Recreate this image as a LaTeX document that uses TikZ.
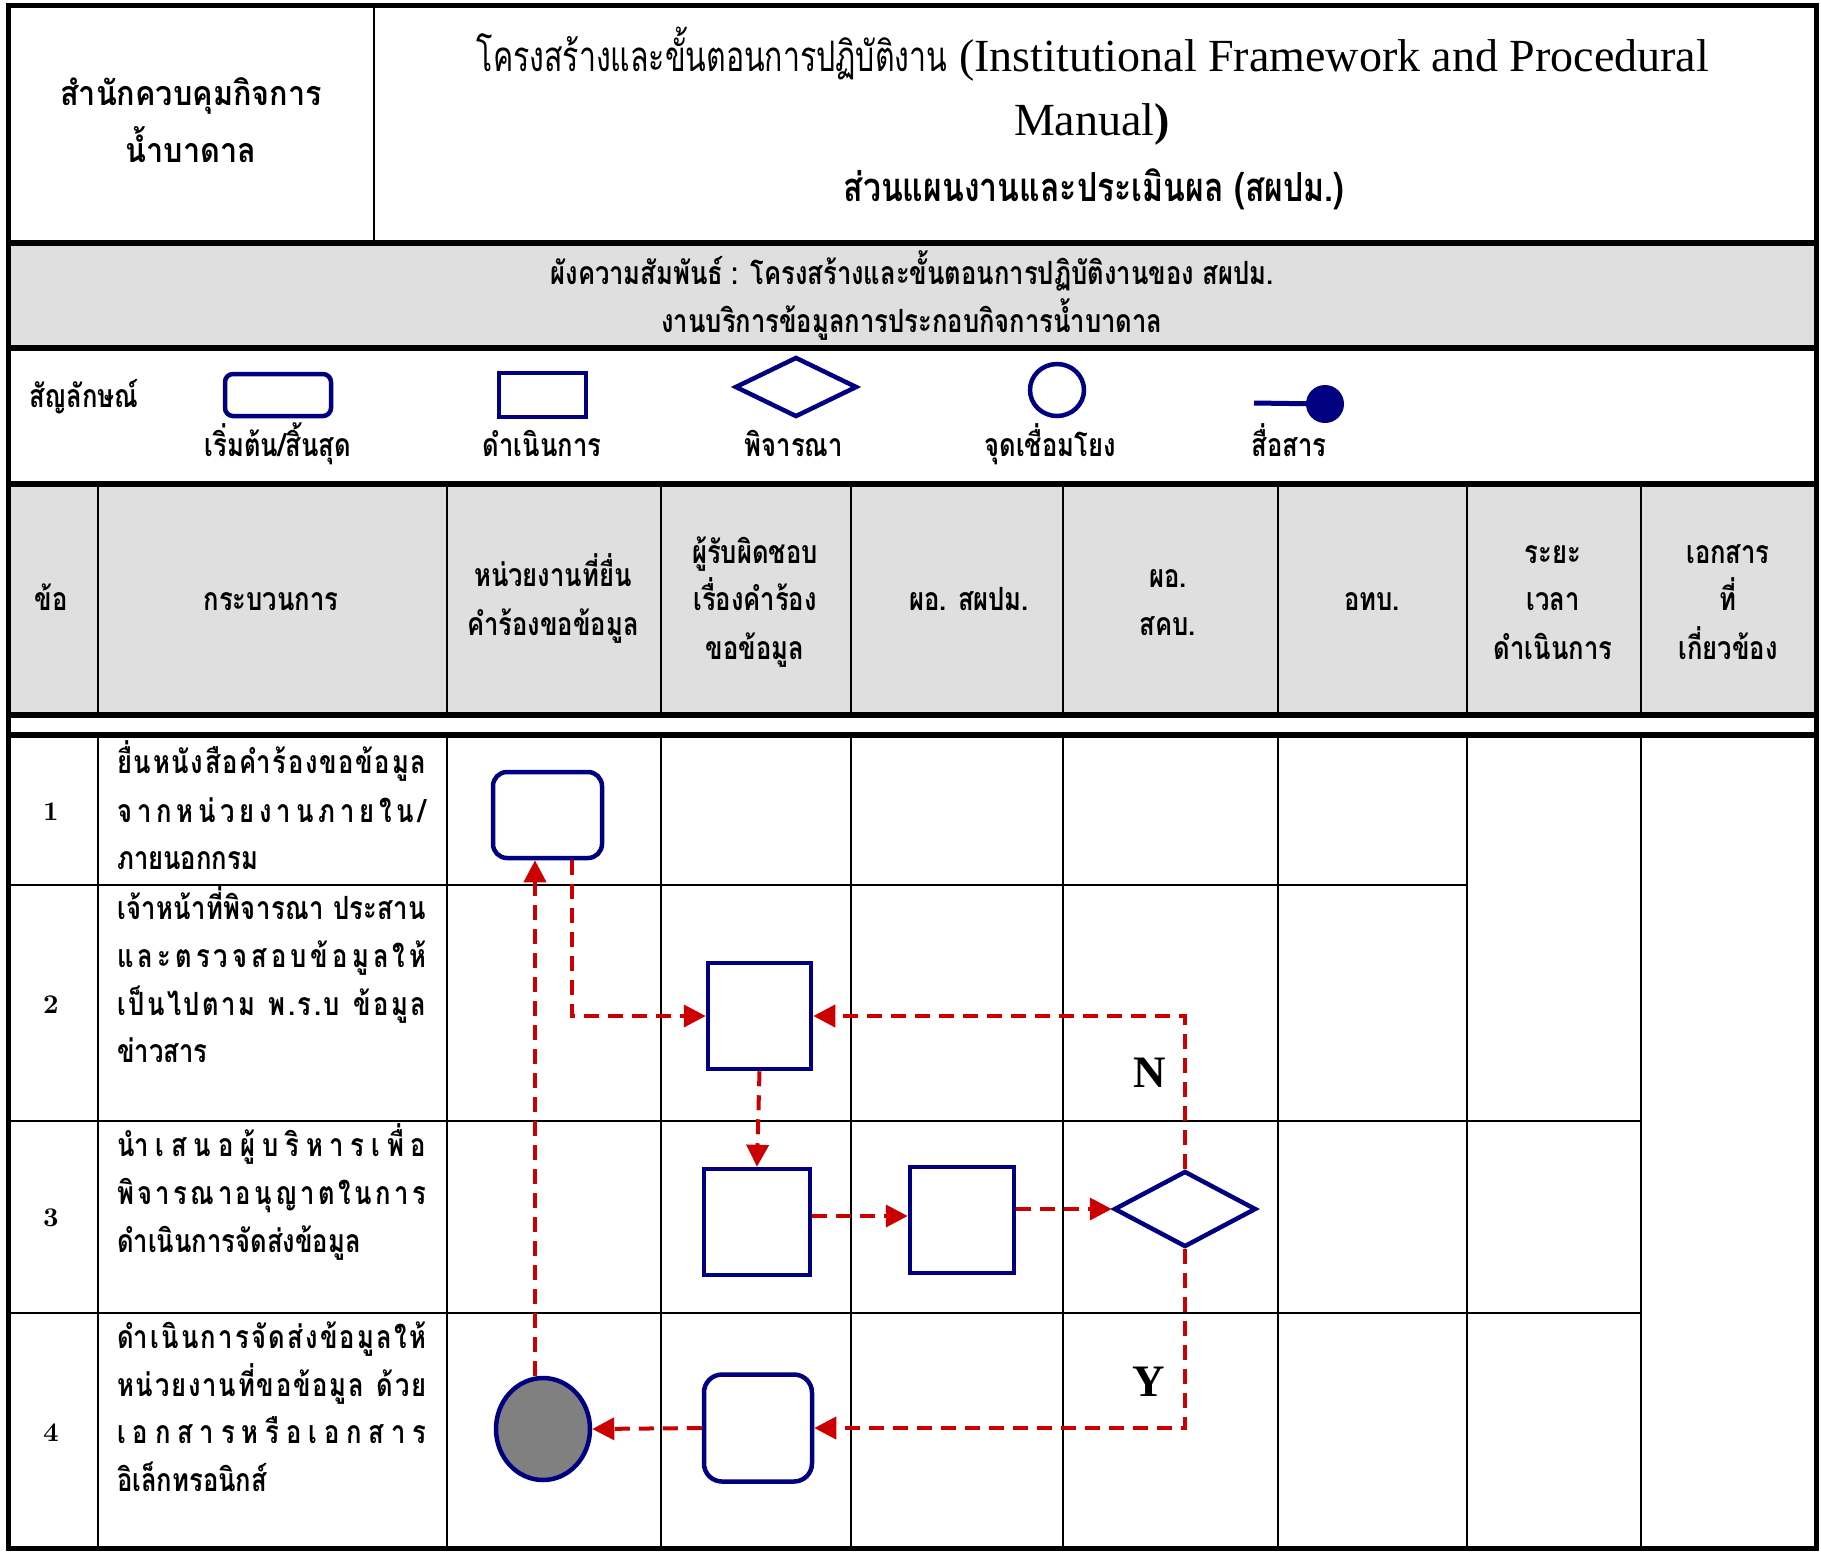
\documentclass[tikz,border=0pt]{standalone}
\usepackage{fontspec}
\newfontfamily\thaifont[Script=Thai,FakeStretch=0.8]{Loma}
\newfontfamily\thaiwide[Script=Thai,FakeStretch=0.9]{Loma}
\newfontfamily\thaititle[Script=Thai,FakeStretch=0.72]{Loma}
\newfontfamily\tnr{Liberation Serif}
\newfontfamily\lmbold{lmroman10-bold}[Extension=.otf]
\usetikzlibrary{arrows.meta,shapes.geometric}
\definecolor{navyb}{HTML}{000080}
\definecolor{flowred}{HTML}{CC0000}
\definecolor{hdrgray}{HTML}{DFDFDF}
\ExplSyntaxOn
\bool_new:N \l_jl_first_bool
\NewDocumentCommand \jtext { m }
 {
  \bool_set_true:N \l_jl_first_bool
  \tl_map_inline:nn { #1 }
   {
    \str_if_in:nnTF { ัิีึืฺุู็่้๊๋์ํำ } { ##1 }
     { ##1 }
     {
      \bool_if:NTF \l_jl_first_bool
       { \bool_set_false:N \l_jl_first_bool }
       { \hfil }
      ##1
     }
   }
 }
\ExplSyntaxOff
\newcommand\jline[1]{\makebox[309pt][s]{\jtext{#1}}}
\begin{document}
\begin{tikzpicture}[x=1pt,y=-1pt,
  gridthin/.style={line width=1.5pt,black},
  gridthick/.style={line width=6pt,black},
  symb/.style={draw=navyb,line width=4.5pt,fill=white,inner sep=0pt},
  flow/.style={draw=flowred,line width=4pt,dash pattern=on 15pt off 9pt,
    -{Triangle[length=22pt,width=22pt,fill=flowred]}},
  thtxt/.style={font=\thaifont\bfseries\fontsize{#1pt}{#1pt}\selectfont,inner sep=0pt,anchor=base},
  thleft/.style={thtxt=#1,anchor=base west},
  numtxt/.style={font=\lmbold\fontsize{27pt}{27pt}\selectfont,inner sep=0pt,anchor=base},
  yn/.style={font=\tnr\bfseries\fontsize{45pt}{45pt}\selectfont,inner sep=0pt}
]
\useasboundingbox (0,0) rectangle (1821,1551);
% backgrounds
\fill[hdrgray] (8,243) rectangle (1816,348);
\fill[hdrgray] (8,484) rectangle (1816,715);
% thin grid lines
\draw[gridthin] (374,5) -- (374,243);
\foreach \x in {98,447,661,851,1063,1278,1467,1641}{
  \draw[gridthin] (\x,484) -- (\x,715);
  \draw[gridthin] (\x,735) -- (\x,1548);
}
\draw[gridthin] (8,885) -- (1467,885);
\draw[gridthin] (8,1121) -- (1641,1121);
\draw[gridthin] (8,1313) -- (1641,1313);
% thick lines
\foreach \y in {243,348,484,715,735}{
  \draw[gridthick] (8,\y) -- (1816,\y);
}
\draw[line width=5pt] (8,5) rectangle (1816,1548);

% header texts
\node[inner sep=0pt,anchor=base,font=\thaiwide\bfseries\fontsize{34pt}{34pt}\selectfont] (org1) at (191,105) {สำนักควบคุมกิจการ};
\node[inner sep=0pt,anchor=base,font=\thaiwide\bfseries\fontsize{34pt}{34pt}\selectfont] (org2) at (191,162) {น้ำบาดาล};
\node[inner sep=0pt,anchor=base] (title1) at (1093,71)
  {{\thaititle\fontsize{42pt}{42pt}\selectfont โครงสร้างและขั้นตอนการปฏิบัติงาน}\hspace{12pt}{\tnr\fontsize{46pt}{46pt}\selectfont (Institutional Framework and Procedural}};
\node[inner sep=0pt,anchor=base] (title2) at (1092,135)
  {\tnr\fontsize{46pt}{46pt}\selectfont Manual\textbf{)}};
\node[thtxt=40] (title3) at (1094,201) {ส่วนแผนงานและประเมินผล (สผปม.)};
\node[thtxt=32] (band1) at (912,284) {ผังความสัมพันธ์ : โครงสร้างและขั้นตอนการปฏิบัติงานของ สผปม.};
\node[thtxt=32] (band2) at (912,332) {งานบริการข้อมูลการประกอบกิจการน้ำบาดาล};

% legend
\node[thtxt=32,anchor=base west] (legtitle) at (29,407) {สัญลักษณ์};
\node[symb,rounded corners=8pt,minimum width=106pt,minimum height=42pt] (lgstart) at (278,395) {};
\node[symb,minimum width=87pt,minimum height=44pt] (lgproc) at (542.5,395) {};
\node[symb,diamond,minimum width=122pt,minimum height=60pt] (lgdec) at (796,387) {};
\node[symb,ellipse,minimum width=54pt,minimum height=52pt] (lgcon) at (1057,390) {};
\node[circle,fill=navyb,inner sep=0pt,minimum size=38pt] (lgdot) at (1325,404) {};
\coordinate (lgline) at (1254,403);
\draw[navyb,line width=5pt] (lgline) -- (lgdot.center);
\node[thtxt=32] (lgl1) at (278,456) {เริ่มต้น/สิ้นสุด};
\node[thtxt=32] (lgl2) at (542,456) {ดำเนินการ};
\node[thtxt=32] (lgl3) at (794,456) {พิจารณา};
\node[thtxt=32] (lgl4) at (1050,456) {จุดเชื่อมโยง};
\node[thtxt=32] (lgl5) at (1289,456) {สื่อสาร};

% column headers
\node[thtxt=32] (h1) at (51,610) {ข้อ};
\node[thtxt=32] (h2) at (271,610) {กระบวนการ};
\node[thtxt=32] (h3a) at (553,586) {หน่วยงานที่ยื่น};
\node[thtxt=32] (h3b) at (553,635) {คำร้องขอข้อมูล};
\node[thtxt=32] (h4a) at (755,563) {ผู้รับผิดชอบ};
\node[thtxt=32] (h4b) at (755,610) {เรื่องคำร้อง};
\node[thtxt=32] (h4c) at (755,659) {ขอข้อมูล};
\node[thtxt=32] (h5) at (969,610) {ผอ. สผปม.};
\node[thtxt=32] (h6a) at (1168,587) {ผอ.};
\node[thtxt=32] (h6b) at (1168,635) {สคบ.};
\node[thtxt=32] (h7) at (1372,610) {อทบ.};
\node[thtxt=32] (h8a) at (1553,563) {ระยะ};
\node[thtxt=32] (h8b) at (1553,610) {เวลา};
\node[thtxt=32] (h8c) at (1553,659) {ดำเนินการ};
\node[thtxt=32] (h9a) at (1728,563) {เอกสาร};
\node[thtxt=32] (h9b) at (1728,610) {ที่};
\node[thtxt=32] (h9c) at (1728,659) {เกี่ยวข้อง};

% row numbers
\node[numtxt] (n1) at (51,820) {1};
\node[numtxt] (n2) at (51,1013) {2};
\node[numtxt] (n3) at (51,1226) {3};
\node[numtxt] (n4) at (51,1441) {4};

% process texts
\node[thleft=32] (r1a) at (117,773) {\jline{ยื่นหนังสือคำร้องขอข้อมูล}};
\node[thleft=32] (r1b) at (117,822) {\jline{จากหน่วยงานภายใน/}};
\node[thleft=32] (r1c) at (117,869) {ภายนอกกรม};
\node[thleft=32] (r2a) at (117,919) {\jline{เจ้าหน้าที่พิจารณา~ประสาน}};
\node[thleft=32] (r2b) at (117,967) {\jline{และตรวจสอบข้อมูลให้}};
\node[thleft=32] (r2c) at (117,1015) {\jline{เป็นไปตาม~พ.ร.บ~ข้อมูล}};
\node[thleft=32] (r2d) at (117,1062) {ข่าวสาร};
\node[thleft=32] (r3a) at (117,1156) {\jline{นำเสนอผู้บริหารเพื่อ}};
\node[thleft=32] (r3b) at (117,1204) {\jline{พิจารณาอนุญาตในการ}};
\node[thleft=32] (r3c) at (117,1252) {ดำเนินการจัดส่งข้อมูล};
\node[thleft=32] (r4a) at (117,1348) {\jline{ดำเนินการจัดส่งข้อมูลให้}};
\node[thleft=32] (r4b) at (117,1396) {\jline{หน่วยงานที่ขอข้อมูล~ด้วย}};
\node[thleft=32] (r4c) at (117,1443) {\jline{เอกสารหรือเอกสาร}};
\node[thleft=32] (r4d) at (117,1491) {อิเล็กทรอนิกส์};

% flow shapes
\node[symb,rounded corners=14pt,minimum width=109pt,minimum height=86pt] (s1) at (547.5,815) {};
\node[symb,minimum width=103pt,minimum height=106pt] (p2) at (759.5,1016) {};
\node[symb,minimum width=106pt,minimum height=106pt] (p3a) at (757,1222) {};
\node[symb,minimum width=104pt,minimum height=106pt] (p3b) at (962,1220) {};
\node[symb,diamond,minimum width=142pt,minimum height=76pt] (d3) at (1185,1209) {};
\node[symb,rounded corners=18pt,minimum width=108pt,minimum height=107pt] (p4) at (758,1428) {};
\node[symb,ellipse,fill=gray,minimum width=94pt,minimum height=102pt] (c4) at (543,1429) {};
\node[yn] (lblN) at (1150,1073) {N};
\node[yn] (lblY) at (1149,1382) {Y};

% connectors
\draw[flow] ([xshift=24pt]s1.south) |- (p2.west);
\draw[flow] (p2.south) -- (p3a.north);
\draw[flow] ([yshift=6pt]p3a.east) -- ([yshift=6pt]p3a.east -| p3b.west);
\draw[flow] (p3b.east |- d3.west) -- (d3.west);
\draw[flow] (d3.north) |- (p2.east);
\draw[flow] (d3.south) |- (p4.east);
\draw[flow] (p4.west) -- (c4.east);
\draw[flow] ([xshift=-8pt]c4.north) -- ([xshift=-8pt]c4.north |- s1.south);
\end{tikzpicture}
\end{document}
